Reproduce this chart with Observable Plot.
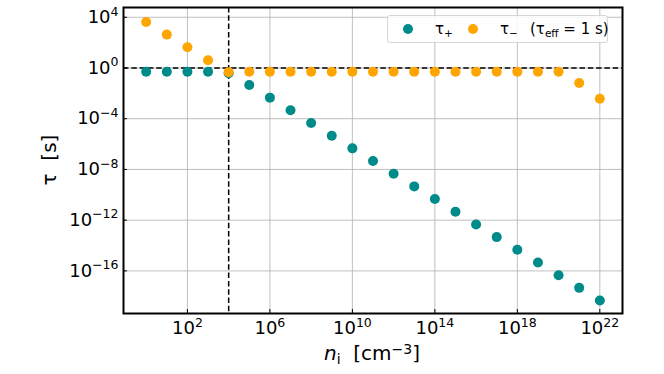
<!DOCTYPE html>
<html><head><meta charset="utf-8">
<script src="https://cdn.jsdelivr.net/npm/d3@7"></script>
<script src="https://cdn.jsdelivr.net/npm/@observablehq/plot@0.6"></script>
<style>
body{margin:0;background:#fff;font-family:"DejaVu Sans",sans-serif;}
#wrap{position:relative;width:664px;height:374px;overflow:hidden;}
.lab{position:absolute;font-size:20px;line-height:1;color:#000;white-space:nowrap;}
.sub{position:relative;top:0.3em;font-size:0.7em;}
.sup{position:relative;top:-0.45em;font-size:0.7em;}
#legend{position:absolute;left:387px;top:15px;width:221px;height:28px;border:1px solid #d6d6d6;border-radius:3px;background:rgba(255,255,255,0.85);box-sizing:border-box;font-size:15px;line-height:1;}
#legend .it{position:absolute;top:6px;white-space:nowrap;}
#legend .mk{position:absolute;top:8px;width:10px;height:10px;border-radius:50%;}
</style></head>
<body>
<div id="wrap"></div>
<script>
// data
const ni = [1e0,1e1,1e2,1e3,1e4,1e5,1e6,1e7,1e8,1e9,1e10,1e11,1e12,1e13,1e14,1e15,1e16,1e17,1e18,1e19,1e20,1e21,1e22];
const tauPlus = [0.5,0.5,0.5,0.5,0.38,4.5e-2,4.6e-3,4.6e-4,4.6e-5,4.6e-6,4.6e-7,4.6e-8,4.6e-9,4.6e-10,4.6e-11,4.6e-12,4.6e-13,4.6e-14,4.6e-15,4.6e-16,4.6e-17,4.6e-18,4.6e-19];
const tauMinus = [4.2e3,4.3e2,4.3e1,4.1e0,0.47,0.5,0.5,0.5,0.5,0.5,0.5,0.5,0.5,0.5,0.5,0.5,0.5,0.5,0.5,0.5,0.5,6.6e-2,3.8e-3];
const xTicks = [1e2,1e6,1e10,1e14,1e18,1e22];
const yTicks = [1e4,1e0,1e-4,1e-8,1e-12,1e-16];
const tauEff = [1];
const niMark = [1e4];

const plusData = ni.map((x,i)=>({x, y: tauPlus[i]}));
const minusData = ni.map((x,i)=>({x, y: tauMinus[i]}));

const W=664,H=374,mL=123,mR=42,mT=7,mB=61;
const fw=W-mL-mR, fh=H-mT-mB;
const fmt = d => "10^" + Math.round(Math.log10(d));

const chart = Plot.plot({
  width:W,height:H,marginLeft:mL,marginRight:mR,marginTop:mT,marginBottom:mB,
  style:{fontFamily:"DejaVu Sans",fontSize:"18px",background:"transparent",color:"#000"},
  x:{type:"log",domain:[10**-1.1,10**23.1]},
  y:{type:"log",domain:[10**-19.36,10**4.77]},
  marks:[
    Plot.gridX(xTicks,{stroke:"#b0b0b0",strokeOpacity:1,strokeWidth:0.8}),
    Plot.gridY(yTicks,{stroke:"#b0b0b0",strokeOpacity:1,strokeWidth:0.8}),
    Plot.ruleY(tauEff,{stroke:"#000",strokeWidth:1.5,strokeDasharray:"5.5,2.8"}),
    Plot.ruleX(niMark,{stroke:"#000",strokeWidth:1.5,strokeDasharray:"5.5,2.8"}),
    Plot.dot(plusData,{x:"x",y:"y",r:5,fill:"#008b8b"}),
    Plot.dot(minusData,{x:"x",y:"y",r:5,fill:"#ffa500"}),
    Plot.tickX(xTicks,{x:d=>d,insetTop:fh-4,stroke:"#000",strokeWidth:1}),
    Plot.tickY(yTicks,{y:d=>d,insetRight:fw-4,stroke:"#000",strokeWidth:1}),
    Plot.axisX(xTicks,{tickSize:0,tickPadding:8,tickFormat:fmt,label:null}),
    Plot.axisY(yTicks,{tickSize:0,tickPadding:5,tickFormat:fmt,label:null}),
    Plot.frame({stroke:"#000",strokeWidth:2})
  ]
});

chart.querySelectorAll("text").forEach(t=>{
  const m = t.textContent.match(/^10\^(.+)$/);
  if(!m) return;
  t.textContent = "10";
  t.setAttribute("font-size","18");
  t.style.fontSize = "18px";
  const ts = document.createElementNS("http://www.w3.org/2000/svg","tspan");
  ts.setAttribute("dy","-7.5");
  ts.setAttribute("font-size","12.5");
  ts.style.fontSize = "12.5px";
  ts.textContent = m[1].replace("-","\u2212");
  t.appendChild(ts);
});

const wrap = document.getElementById("wrap");
wrap.appendChild(chart);

const xl = document.createElement("div");
xl.className="lab";
xl.style.left="372px"; xl.style.top="343px"; xl.style.transform="translateX(-50%)";
xl.innerHTML='<i>n</i><span class="sub">i</span>&nbsp;&nbsp;[cm<span class="sup">\u22123</span>]';
wrap.appendChild(xl);

const yl = document.createElement("div");
yl.className="lab";
yl.style.left="49px"; yl.style.top="160px"; yl.style.transform="translate(-50%,-50%) rotate(-90deg)";
yl.innerHTML='\u03c4&nbsp;&nbsp;[s]';
wrap.appendChild(yl);

const lg = document.createElement("div");
lg.id="legend";
lg.innerHTML =
  '<span class="mk" style="left:15px;background:#008b8b"></span>'+
  '<span class="it" style="left:47px">\u03c4<span class="sub">+</span></span>'+
  '<span class="mk" style="left:80px;background:#ffa500"></span>'+
  '<span class="it" style="left:112px">\u03c4<span class="sub">\u2212</span></span>'+
  '<span class="it" style="left:142px">(\u03c4<span class="sub">eff</span> = 1 s)</span>';
wrap.appendChild(lg);
</script>
</body></html>
